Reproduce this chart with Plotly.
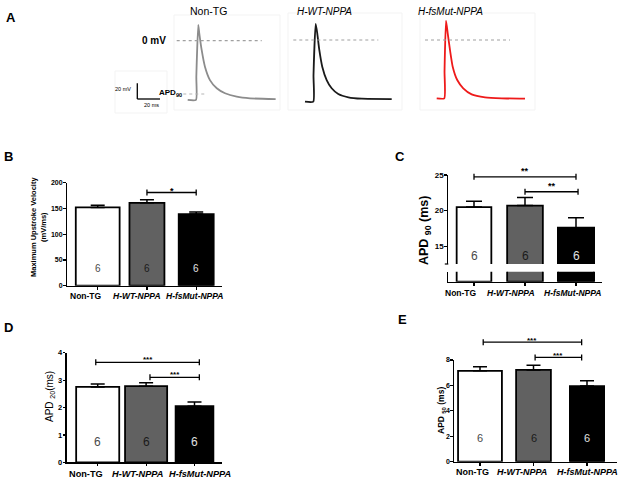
import plotly.graph_objects as go

W, H = 621, 482
FONT = "Liberation Sans, Arial, sans-serif"

# ---------------- data ----------------
groups = ["Non-TG", "H-WT-NPPA", "H-fsMut-NPPA"]
group_labels = ["<b>Non-TG</b>", "<b><i>H-WT-NPPA</i></b>", "<b><i>H-fsMut-NPPA</i></b>"]
ap_titles = ["Non-TG", "<i>H-WT-NPPA</i>", "<i>H-fsMut-NPPA</i>"]
n_cells = [6, 6, 6]

vmax_mean = [152, 161, 139]
vmax_sem = [4, 6, 4]
apd90_mean = [20.5, 20.7, 17.6]
apd90_sem = [0.8, 1.15, 1.4]
apd20_mean = [2.75, 2.78, 2.05]
apd20_sem = [0.11, 0.12, 0.15]
apd50_mean = [7.15, 7.22, 5.95]
apd50_sem = [0.31, 0.37, 0.42]

# significance brackets: (from group, to group, height in data units, label)
sig_vmax = [(1, 2, 181, "*")]
sig_apd90 = [(0, 2, 24.75, "**"), (1, 2.04, 22.65, "**")]
sig_apd20 = [(-0.04, 2.1, 3.65, "***"), (1.08, 2.1, 3.1, "***")]
sig_apd50 = [(0.06, 1.9, 9.4, "***"), (1.03, 1.9, 8.2, "***")]

# action potential traces (time ms, membrane potential mV)
ap_nontg_t = [0, 7.3, 7.6, 9.3, 10.2, 12.3, 15.2, 19.6, 25.6, 32.9, 43.2, 54.9, 77.5]
ap_nontg_v = [-75.5, -75.5, -46, 20, 9.4, -11.8, -33.1, -50.2, -60.6, -67.0, -71.3, -73.4, -74.3]
ap_wt_t = [0, 7.3, 7.5, 9.4, 10.8, 12.6, 15.2, 19.1, 23.5, 29.3, 38.2, 50.0, 76.4]
ap_wt_v = [-78.6, -78.6, -45, 20.4, 8.5, -12.7, -34.0, -51.0, -61.5, -68.8, -73.0, -74.8, -75.2]
ap_fs_t = [0, 6.7, 6.9, 8.2, 9.7, 11.7, 14.1, 18.1, 23.4, 30.8, 42.6, 57.3, 77.8]
ap_fs_v = [-74.3, -74.3, -40, 24.6, 8.5, -12.7, -34.0, -51.0, -61.5, -69.2, -73.0, -74.3, -74.8]
apd90_level = -67.9
scale_mv = 20
scale_ms = 20

# ---------------- layout helpers ----------------
def fx(p):
    return p / W

def fy(p):
    return 1 - p / H

def akey(c, n):
    return f"{c}axis" if n == 1 else f"{c}axis{n}"

def aref(c, n):
    return c if n == 1 else f"{c}{n}"

fig = go.Figure()
layout = dict(width=W, height=H, margin=dict(l=0, r=0, t=0, b=0, autoexpand=False),
              paper_bgcolor="white", plot_bgcolor="rgba(0,0,0,0)",
              showlegend=False, font=dict(family=FONT, color="black"))
shapes = []
annotations = []

def text(x, y, s, size, bold=False, angle=0, color="black", xanchor="center", yanchor="middle"):
    annotations.append(dict(x=fx(x), y=fy(y), xref="paper", yref="paper", text=s,
                            showarrow=False, textangle=angle, xanchor=xanchor, yanchor=yanchor,
                            font=dict(size=size, color=color, family=FONT,
                                      weight="bold" if bold else "normal")))

def pline(x0, y0, x1, y1, color="black", width=1.2, dash=None):
    ln = dict(color=color, width=width)
    if dash:
        ln["dash"] = dash
    shapes.append(dict(type="line", xref="paper", yref="paper", x0=fx(x0), y0=fy(y0),
                       x1=fx(x1), y1=fy(y1), line=ln))

# ---------------- panel A ----------------
MS_PX, MV_PX = 1.135, 0.785
A_BOX = [  # x0, x1, y0, y1 px ; origin px ; 0 mV px
    (174, 280, 15, 110, 187.7, 40.7),
    (288, 402, 13, 110, 305.0, 40.0),
    (420, 535, 13, 110, 436.7, 40.0),
]
A_ZERO = [(176.7, 261.7), (293.3, 378.3), (425, 510)]
A_TITLE_POS = [(208.3, 10.7, 10.5), (324, 11.7, 10), (450, 11.7, 10)]
ap_traces = [(ap_nontg_t, ap_nontg_v, "#8c8c8c"),
             (ap_wt_t, ap_wt_v, "#1a1a1a"),
             (ap_fs_t, ap_fs_v, "#ee1a1a")]

for i, ((t, v, col), box) in enumerate(zip(ap_traces, A_BOX), start=1):
    x0, x1, y0, y1, ox, oy = box
    layout[akey("x", i)] = dict(domain=[fx(x0), fx(x1)],
                                range=[(x0 - ox) / MS_PX, (x1 - ox) / MS_PX],
                                visible=False, anchor=aref("y", i), automargin=False)
    layout[akey("y", i)] = dict(domain=[fy(y1), fy(y0)],
                                range=[(oy - y1) / MV_PX, (oy - y0) / MV_PX],
                                visible=False, anchor=aref("x", i), automargin=False)
    fig.add_trace(go.Scatter(x=t, y=v, mode="lines",
                             line=dict(color=col, width=1.8, shape="spline", smoothing=0.5),
                             xaxis=aref("x", i), yaxis=aref("y", i), hoverinfo="skip"))
    shapes.append(dict(type="rect", xref="paper", yref="paper", x0=fx(x0), x1=fx(x1),
                       y0=fy(y1), y1=fy(y0), line=dict(color="#f3f3f3", width=1)))
    zx0, zx1 = A_ZERO[i - 1]
    shapes.append(dict(type="line", xref=f"{aref('x', i)} domain", yref=aref("y", i),
                       x0=(zx0 - x0) / (x1 - x0), x1=(zx1 - x0) / (x1 - x0), y0=0, y1=0,
                       line=dict(color="#a0a0a0", width=1.2, dash="dot")))
    tx, ty, ts = A_TITLE_POS[i - 1]
    text(tx, ty, ap_titles[i - 1], ts)

# APD90 marker line on first trace
shapes.append(dict(type="line", xref="x", yref="y", x0=-3.9, x1=16.7, y0=apd90_level,
                   y1=apd90_level, line=dict(color="#b5b5b5", width=1, dash="dot")))
text(154, 40.7, "<b>0 mV</b>", 10)
text(183.5, 93.5, "<b>APD<sub>90</sub></b>", 8, xanchor="right")

# scale bar
sbx, sby = 137.3, 99
shapes.append(dict(type="rect", xref="paper", yref="paper", x0=fx(115), x1=fx(167),
                   y0=fy(113), y1=fy(71), line=dict(color="#f3f3f3", width=1)))
pline(sbx, sby, sbx, sby - scale_mv * MV_PX, width=1.3)
pline(sbx, sby, sbx + scale_ms * MS_PX, sby, width=1.3)
text(133, 89.3, f"{scale_mv} mV", 5.5, xanchor="right")
text(151, 104.5, f"{scale_ms} ms", 5.5)

# ---------------- bar panels ----------------
fills = ["white", "#616161", "black"]
n_colors = ["#4a4a4a", "#1a1a1a", "#e0e0e0"]

PANELS = {
    "B": dict(x=(67, 222), y=(182.7, 285.7), yr=(0, 200), c0=97.7, dx=49.25,
              widths=[0.89, 0.71, 0.71], xn=4, yn=4, dtick=50, ytf=7, nf=10, ny=34,
              cap=7, gap=3.5, sf=9, lab_x=[86, 136.7, 194], lab_y=296, lab_f=8.5),
    "C": dict(x=(448.3, 601.7), y=(175, 264), yr=(12.5, 25), c0=474, dx=51,
              widths=[0.68, 0.70, 0.71], xn=5, yn=5, dtick=5, ytf=8, nf=12, ny=13.6,
              cap=8, gap=7.5, sf=9, lab_x=[461, 511, 572], lab_y=293.3, lab_f=8.5),
    "D": dict(x=(66.7, 221.7), y=(352.7, 462.3), yr=(0, 4), c0=97.7, dx=48.4,
              widths=[0.89, 0.87, 0.78], xn=6, yn=7, dtick=1, ytf=7.5, nf=12, ny=0.75,
              cap=7, gap=4.5, sf=8, lab_x=[86, 137.5, 200], lab_y=474, lab_f=9.2),
    "E": dict(x=(454.3, 617.3), y=(360, 461.7), yr=(0, 8), c0=480, dx=53.5,
              widths=[0.82, 0.65, 0.64], xn=7, yn=8, dtick=2, ytf=7, nf=11, ny=1.9,
              cap=7, gap=4, sf=8, lab_x=[472, 521.5, 587], lab_y=472.3, lab_f=9),
}
for p in PANELS.values():
    p["xr"] = ((p["x"][0] - p["c0"]) / p["dx"], (p["x"][1] - p["c0"]) / p["dx"])

C_LOWER_Y = (271.7, 281.7)
C_LOWER_YN = 6

def to_px(p, xv, yv):
    (x0, x1), (y0, y1) = p["x"], p["y"]
    xr0, xr1 = p["xr"]
    yr0, yr1 = p["yr"]
    return (x0 + (xv - xr0) / (xr1 - xr0) * (x1 - x0),
            y1 - (yv - yr0) / (yr1 - yr0) * (y1 - y0))

xs = list(range(len(groups)))
panel_data = {"B": (vmax_mean, vmax_sem, sig_vmax),
              "C": (apd90_mean, apd90_sem, sig_apd90),
              "D": (apd20_mean, apd20_sem, sig_apd20),
              "E": (apd50_mean, apd50_sem, sig_apd50)}

for key, p in PANELS.items():
    means, sems, sigs = panel_data[key]
    xa, ya = aref("x", p["xn"]), aref("y", p["yn"])
    x_anchor = aref("y", C_LOWER_YN) if key == "C" else ya
    layout[akey("x", p["xn"])] = dict(
        domain=[fx(p["x"][0]), fx(p["x"][1])], range=list(p["xr"]), anchor=x_anchor,
        tickvals=xs, showticklabels=False, automargin=False,
        showline=True, linecolor="black", linewidth=1.5,
        ticks="outside", ticklen=2.5, tickwidth=1.2, tickcolor="black",
        showgrid=False, zeroline=False)
    ycfg = dict(domain=[fy(p["y"][1]), fy(p["y"][0])], range=list(p["yr"]), anchor=xa,
                showline=True, linecolor="black", linewidth=1.5, ticks="outside",
                ticklen=2.5, tickwidth=1.2, tickcolor="black", showgrid=False, zeroline=False,
                automargin=False, ticklabelstandoff=-1,
                tickfont=dict(size=p["ytf"], family=FONT, color="black", weight="bold"))
    if key == "C":
        ycfg.update(tickvals=[15, 20, 25])
    else:
        ycfg.update(tick0=0, dtick=p["dtick"])
    layout[akey("y", p["yn"])] = ycfg

    fig.add_trace(go.Bar(
        x=xs, y=means, width=p["widths"], xaxis=xa, yaxis=ya,
        marker=dict(color=fills, line=dict(color="black", width=1.8)),
        error_y=dict(type="data", array=sems, arrayminus=[0] * len(sems), symmetric=False,
                     color="black", thickness=1.5, width=p["cap"]),
        hoverinfo="skip"))

    if key == "C":
        yl = aref("y", C_LOWER_YN)
        layout[akey("y", C_LOWER_YN)] = dict(
            domain=[fy(C_LOWER_Y[1]), fy(C_LOWER_Y[0])], range=[0, 1], anchor=xa,
            showline=True, linecolor="black", linewidth=1.5, ticks="", showticklabels=False,
            showgrid=False, zeroline=False, automargin=False)
        fig.add_trace(go.Bar(x=xs, y=means, width=p["widths"], xaxis=xa, yaxis=yl,
                             marker=dict(color=fills, line=dict(color="black", width=1.8)),
                             hoverinfo="skip"))
        # axis-break end tick
        pline(p["x"][0] - 3.5, p["y"][1], p["x"][0], p["y"][1], width=1.2)

    # group labels under the axis
    for lx, lab in zip(p["lab_x"], group_labels):
        text(lx, p["lab_y"], lab, p["lab_f"])

    # n labels
    for xi, n, c in zip(xs, n_cells, n_colors):
        annotations.append(dict(x=xi, y=p["ny"], xref=xa, yref=ya, text=str(n),
                                showarrow=False, font=dict(size=p["nf"], color=c, family=FONT)))

    # significance brackets
    for (ga, gb, yv, lab) in sigs:
        ax_, ay_ = to_px(p, ga, yv)
        bx_, _ = to_px(p, gb, yv)
        pline(ax_, ay_, bx_, ay_, width=1.3)
        pline(ax_, ay_ - 3, ax_, ay_ + 3, width=1.3)
        pline(bx_, ay_ - 3, bx_, ay_ + 3, width=1.3)
        text((ax_ + bx_) / 2, ay_ - p["gap"] + 1.8, f"<b>{lab}</b>", p["sf"])

# y-axis titles
text(38, 227, "<b>Maximum Upstroke Velocity</b><br><b>(mV/ms)</b>", 7.5, angle=-90)
text(425, 231, "<b>APD <sub>90</sub> (ms)</b>", 12.5, angle=-90)
text(50, 397, "APD <sub>20</sub>(ms)", 10, angle=-90)
text(441, 411, "<b>APD <sub>50</sub> (ms)</b>", 8.5, angle=-90)

# panel letters
for lab, (lx, ly) in zip("ABCDE", [(11, 18), (8, 157), (400, 157), (8, 327), (402, 319)]):
    text(lx, ly, f"<b>{lab}</b>", 13)

layout["shapes"] = shapes
layout["annotations"] = annotations
fig.update_layout(**layout)
fig.write_html("out.html", config={"displayModeBar": False, "staticPlot": True},
               post_script="document.body.style.margin='0';document.body.style.padding='0';")
